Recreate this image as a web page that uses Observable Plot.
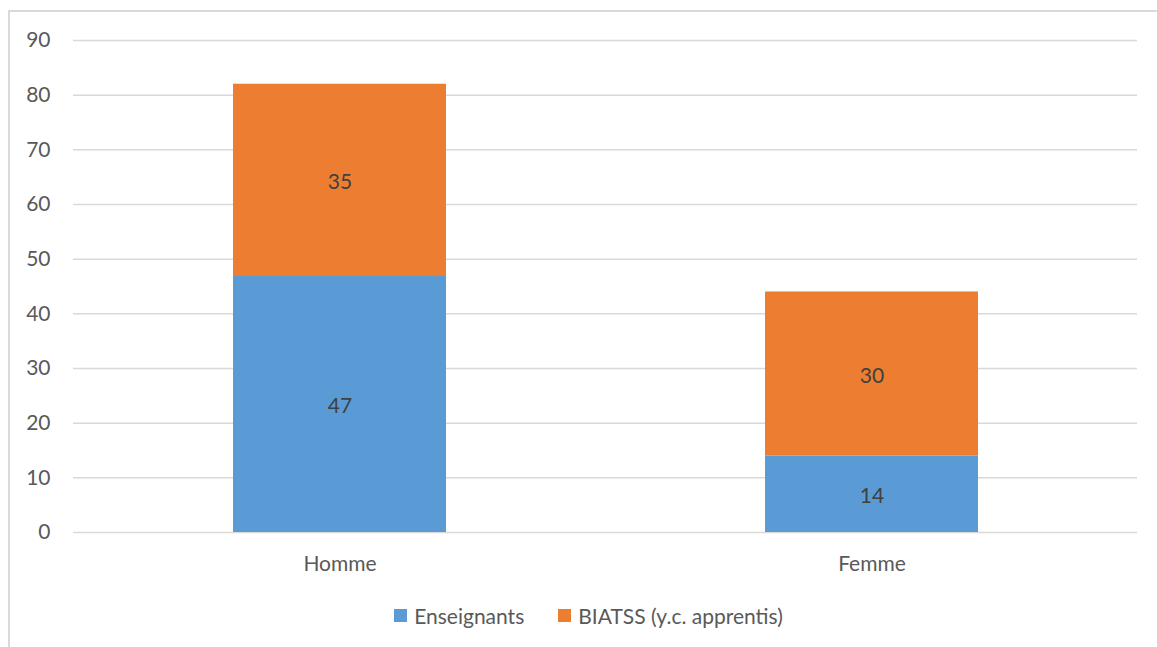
<!DOCTYPE html>
<html>
<head>
<meta charset="utf-8">
<script src="https://cdn.jsdelivr.net/npm/d3@7"></script>
<script src="https://cdn.jsdelivr.net/npm/@observablehq/plot@0.6"></script>
<style>
  html, body { margin: 0; padding: 0; background: #fff; }
  body { width: 1157px; height: 647px; position: relative; overflow: hidden; font-family: Lato, "Open Sans", sans-serif; }
  #frame { position: absolute; left: 8px; top: 10px; width: 1170px; height: 660px; border: 2px solid #d9d9d9; box-sizing: border-box; }
  #chart { position: absolute; left: 0; top: 0; }
  #legend { position: absolute; left: 0; top: 603px; width: 1157px; display: flex; justify-content: center; gap: 34px; font-size: 21px; color: #595959; padding-left: 20px; box-sizing: border-box; }
  #legend .item { display: flex; align-items: center; gap: 7px; }
  #legend .sw { width: 13px; height: 13px; display: inline-block; }
</style>
</head>
<body>
<div id="frame"></div>
<div id="chart"></div>
<div id="legend"></div>
<script>
const categories = ["Homme", "Femme"];
const series = ["Enseignants", "BIATSS (y.c. apprentis)"];
const enseignants = [47, 14];
const biatss = [35, 30];
const colors = ["#5b9bd5", "#ed7d31"];
const yTicks = [0, 10, 20, 30, 40, 50, 60, 70, 80, 90];

const values = [enseignants, biatss];
const data = [];
series.forEach((s, i) => categories.forEach((c, j) => data.push({cat: c, serie: s, value: values[i][j]})));

const plot = Plot.plot({
  width: 1157,
  height: 600,
  marginLeft: 73,
  marginRight: 20,
  marginTop: 40,
  marginBottom: 68,
  style: {fontFamily: "Lato, 'Open Sans', sans-serif", fontSize: "20px", color: "#595959", background: "transparent"},
  x: {domain: categories, paddingInner: 0.6, paddingOuter: 0.3, label: null},
  y: {domain: [0, 90], label: null},
  color: {domain: series, range: colors},
  marks: [
    Plot.gridY(yTicks, {stroke: "#d9d9d9", strokeOpacity: 1, strokeWidth: 1.5}),
    Plot.barY(data, Plot.stackY({x: "cat", y: "value", fill: "serie", order: null})),
    Plot.text(data, Plot.stackY({x: "cat", y: "value", z: "serie", text: d => String(d.value), fill: "#404040", fontSize: 21, dy: 2, order: null})),
    Plot.axisY(yTicks, {tickSize: 0, tickPadding: 23, fontSize: 21, fill: "#595959", label: null}),
    Plot.axisX({tickSize: 0, tickPadding: 24, fontSize: 21, fill: "#595959", label: null})
  ]
});
document.getElementById("chart").appendChild(plot);

const legend = document.getElementById("legend");
series.forEach((s, i) => {
  const item = document.createElement("div");
  item.className = "item";
  const sw = document.createElement("span");
  sw.className = "sw";
  sw.style.background = colors[i];
  const t = document.createElement("span");
  t.textContent = s;
  item.appendChild(sw);
  item.appendChild(t);
  legend.appendChild(item);
});
</script>
</body>
</html>
